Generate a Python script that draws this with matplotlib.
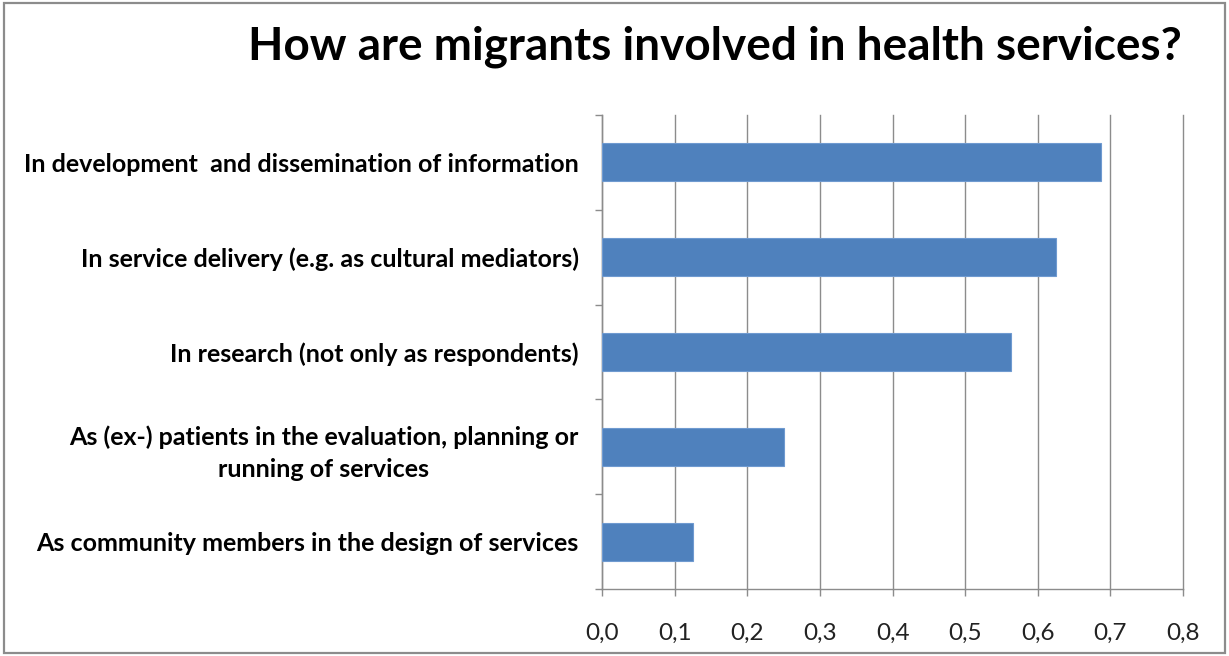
import matplotlib
matplotlib.use("Agg")
import matplotlib.pyplot as plt
from matplotlib.patches import Rectangle
from matplotlib.ticker import FuncFormatter, FixedLocator

categories = [
    "In development  and dissemination of information",
    "In service delivery (e.g. as cultural mediators)",
    "In research (not only as respondents)",
    "As (ex-) patients in the evaluation, planning or\nrunning of services",
    "As community members in the design of services",
]
values = [0.6875, 0.625, 0.5625, 0.25, 0.125]
x_ticks = [0.0, 0.1, 0.2, 0.3, 0.4, 0.5, 0.6, 0.7, 0.8]
title = "How are migrants involved in health services?"

plt.rcParams["font.family"] = ["Lato", "DejaVu Sans"]

fig = plt.figure(figsize=(12.29, 6.56), dpi=100)
fig.patch.set_facecolor("white")
# chart frame
fig.add_artist(Rectangle((0.003, 0.004), 0.994, 0.991, transform=fig.transFigure,
                         fill=False, edgecolor="#8c8c8c", linewidth=1.6))

ax = fig.add_axes([0.490, 0.102, 0.4726, 0.7227])

pos = list(range(len(categories)))
ax.barh(pos, values, height=0.4, color="#4F81BD", edgecolor="#6f9ad0",
        linewidth=0.8, zorder=3)

ax.set_xlim(0, 0.8)
ax.set_ylim(len(categories) - 0.5, -0.5)

ax.xaxis.set_major_locator(FixedLocator(x_ticks))
ax.xaxis.set_major_formatter(FuncFormatter(lambda v, p: f"{v:.1f}".replace(".", ",")))
ax.grid(axis="x", color="#8c8c8c", linewidth=1.0, zorder=0)
for gl in ax.get_xgridlines():
    gl.set_clip_on(False)

ax.set_yticks(pos)
ax.set_yticklabels(categories, fontweight="bold", fontsize=18, color="black")
for lab in ax.get_yticklabels():
    lab.set_multialignment("center")
    lab.set_linespacing(1.45)
ax.yaxis.set_minor_locator(FixedLocator([p - 0.5 for p in pos] + [len(pos) - 0.5]))
ax.tick_params(axis="y", which="major", length=0, pad=17)
ax.tick_params(axis="y", which="minor", length=5, color="#8c8c8c", width=1.0)
ax.tick_params(axis="x", which="major", length=5, color="#8c8c8c", width=1.0,
               labelsize=17.5, labelcolor="#222222", pad=19)

for side in ("top", "right"):
    ax.spines[side].set_visible(False)
for side in ("left", "bottom"):
    ax.spines[side].set_color("#8c8c8c")
    ax.spines[side].set_linewidth(1.0)

fig.text(0.582, 0.928, title, ha="center", va="center", fontsize=33,
         fontweight="bold", color="black")

fig.savefig("out.png", dpi=100)
